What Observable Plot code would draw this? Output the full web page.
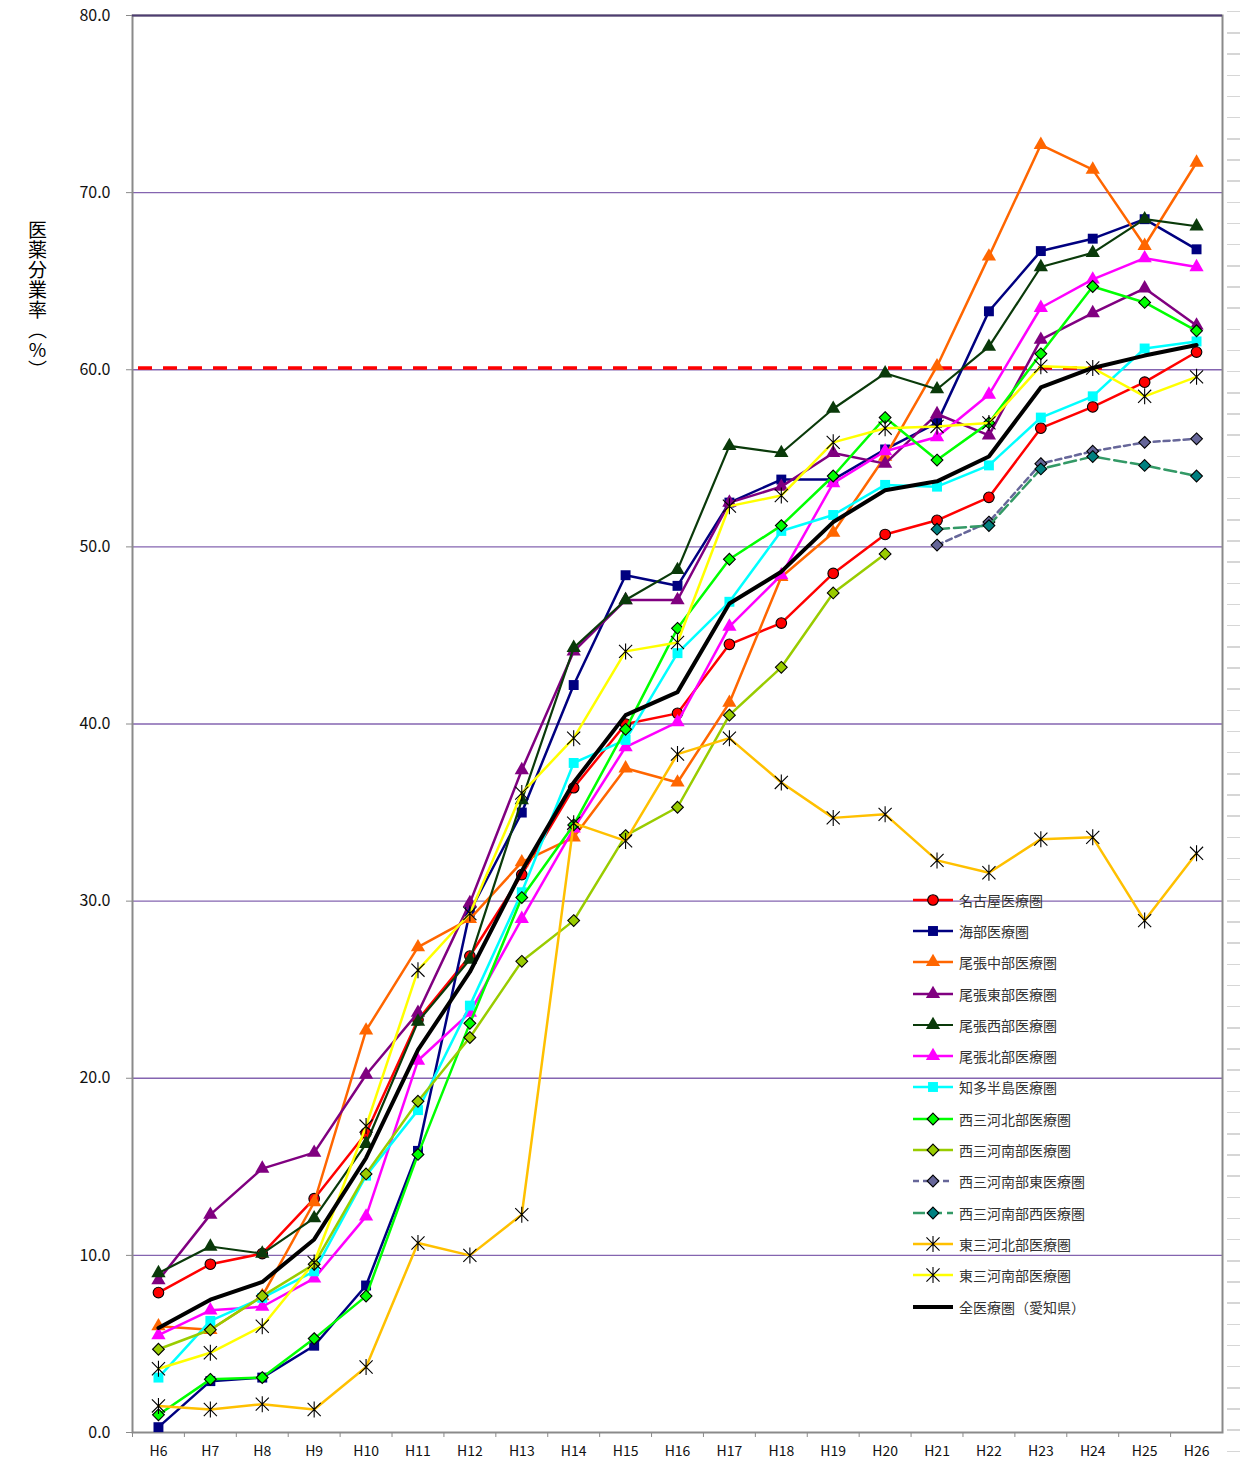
<!DOCTYPE html>
<html><head><meta charset="utf-8">
<script src="https://cdn.jsdelivr.net/npm/d3@7"></script>
<script src="https://cdn.jsdelivr.net/npm/@observablehq/plot@0.6"></script>
<style>
body{margin:0;background:#fff;font-family:"Noto Sans CJK JP","Noto Sans",sans-serif;}
#wrap{position:relative;width:1243px;height:1461px;overflow:hidden;}
#ytitle{position:absolute;left:28px;top:220px;writing-mode:vertical-rl;text-orientation:upright;font-size:19px;color:#000;line-height:19px;letter-spacing:1px;}
#legend{position:absolute;left:913px;top:884px;}
.row{display:flex;align-items:center;height:31.3px;font-size:14px;color:#333;white-space:nowrap;}
.row svg{margin-right:6px;overflow:visible}
#rticks{position:absolute;left:1227px;top:11px;width:13px;height:1443px;background:repeating-linear-gradient(to bottom,#d6d6d6 0,#d6d6d6 1.5px,transparent 1.5px,transparent 21.17px);}
</style></head>
<body><div id="wrap"></div>
<script>
// ---- data ----
const years = ["H6","H7","H8","H9","H10","H11","H12","H13","H14","H15","H16","H17","H18","H19","H20","H21","H22","H23","H24","H25","H26"];
const yTicks = [0,10,20,30,40,50,60,70,80];
const target = 60.1;
const seriesNames = ["名古屋医療圏","海部医療圏","尾張中部医療圏","尾張東部医療圏","尾張西部医療圏","尾張北部医療圏","知多半島医療圏","西三河北部医療圏","西三河南部医療圏","西三河南部東医療圏","西三河南部西医療圏","東三河北部医療圏","東三河南部医療圏","全医療圏（愛知県）"];
const nagoya      = [7.9, 9.5, 10.1, 13.2, 16.9, 23.3, 26.9, 31.5, 36.4, 40.0, 40.6, 44.5, 45.7, 48.5, 50.7, 51.5, 52.8, 56.7, 57.9, 59.3, 61.0];
const ama         = [0.3, 2.9, 3.1, 4.9, 8.3, 15.9, 29.4, 35.0, 42.2, 48.4, 47.8, 52.5, 53.8, 53.8, 55.5, 57.0, 63.3, 66.7, 67.4, 68.5, 66.8];
const owariChubu  = [6.0, 5.8, 7.7, 13.0, 22.7, 27.4, 29.0, 32.2, 33.6, 37.5, 36.7, 41.2, 48.3, 50.8, 55.1, 60.2, 66.4, 72.7, 71.3, 67.0, 71.7];
const owariTobu   = [8.6, 12.3, 14.9, 15.8, 20.2, 23.7, 29.9, 37.4, 44.1, 47.0, 47.0, 52.5, 53.4, 55.3, 54.7, 57.5, 56.3, 61.7, 63.2, 64.6, 62.5];
const owariSeibu  = [9.0, 10.5, 10.1, 12.1, 16.3, 23.2, 26.7, 35.7, 44.3, 47.0, 48.7, 55.7, 55.3, 57.8, 59.8, 58.9, 61.3, 65.8, 66.6, 68.5, 68.1];
const owariHokubu = [5.5, 6.9, 7.1, 8.7, 12.2, 21.0, 23.7, 29.0, 34.1, 38.7, 40.1, 45.5, 48.4, 53.6, 55.4, 56.2, 58.6, 63.5, 65.1, 66.3, 65.8];
const chita       = [3.1, 6.3, 7.6, 9.1, 14.5, 18.2, 24.1, 30.5, 37.8, 39.1, 44.0, 46.9, 50.9, 51.8, 53.5, 53.4, 54.6, 57.3, 58.5, 61.2, 61.6];
const nishiHokubu = [1.0, 3.0, 3.1, 5.3, 7.7, 15.7, 23.1, 30.2, 34.3, 39.7, 45.4, 49.3, 51.2, 54.0, 57.3, 54.9, 57.0, 60.9, 64.7, 63.8, 62.2];
const nishiNanbu  = [4.7, 5.8, 7.7, 9.5, 14.6, 18.7, 22.3, 26.6, 28.9, 33.7, 35.3, 40.5, 43.2, 47.4, 49.6, null, null, null, null, null, null];
const nanbuHigashi= [null,null,null,null,null,null,null,null,null,null,null,null,null,null,null, 50.1, 51.4, 54.7, 55.4, 55.9, 56.1];
const nanbuNishi  = [null,null,null,null,null,null,null,null,null,null,null,null,null,null,null, 51.0, 51.2, 54.4, 55.1, 54.6, 54.0];
const higashiHokubu=[1.5, 1.3, 1.6, 1.3, 3.7, 10.7, 10.0, 12.3, 34.4, 33.4, 38.3, 39.2, 36.7, 34.7, 34.9, 32.3, 31.6, 33.5, 33.6, 28.9, 32.7];
const higashiNanbu= [3.6, 4.5, 6.0, 9.6, 17.3, 26.1, 29.3, 36.1, 39.2, 44.1, 44.6, 52.3, 52.9, 55.9, 56.7, 56.8, 57.0, 60.2, 60.1, 58.5, 59.6];
const aichiAll    = [5.9, 7.5, 8.5, 10.9, 15.5, 21.6, 26.0, 31.7, 36.7, 40.5, 41.8, 46.8, 48.6, 51.4, 53.2, 53.7, 55.1, 59.0, 60.1, 60.8, 61.4];
const seriesValues = [nagoya, ama, owariChubu, owariTobu, owariSeibu, owariHokubu, chita, nishiHokubu, nishiNanbu, nanbuHigashi, nanbuNishi, higashiHokubu, higashiNanbu, aichiAll];

// ---- styles ----
const star = {draw(ctx, size){ const r = Math.sqrt(size/Math.PI); const a = r*0.82;
  ctx.moveTo(-a,-a); ctx.lineTo(a,a); ctx.moveTo(-a,a); ctx.lineTo(a,-a); ctx.moveTo(0,-r); ctx.lineTo(0,r);} };
const styles = [
 {line:"#ff0000", w:2.5, symbol:"circle",   fill:"#ff0000", stroke:"#000", r:5.3},
 {line:"#000080", w:2.5, symbol:"square",   fill:"#000080", stroke:"none", r:5.6},
 {line:"#ff6600", w:2.5, symbol:"triangle", fill:"#ff6600", stroke:"none", r:5.3},
 {line:"#800080", w:2.5, symbol:"triangle", fill:"#800080", stroke:"none", r:5.3},
 {line:"#0a3a0a", w:2.2, symbol:"triangle", fill:"#0a3a0a", stroke:"none", r:5.3},
 {line:"#ff00ff", w:2.5, symbol:"triangle", fill:"#ff00ff", stroke:"none", r:5.3},
 {line:"#00ffff", w:2.5, symbol:"square",   fill:"#00ffff", stroke:"none", r:5.6},
 {line:"#00ff00", w:2.5, symbol:"diamond2", fill:"#00ff00", stroke:"#000", r:5.3},
 {line:"#99cc00", w:2.5, symbol:"diamond2", fill:"#99cc00", stroke:"#000", r:5.3},
 {line:"#666699", w:2.5, dash:"6,4", symbol:"diamond2", fill:"#666699", stroke:"#000", r:5.3},
 {line:"#339966", w:2.5, dash:"12,5", symbol:"diamond2", fill:"#008080", stroke:"#000", r:5.3},
 {line:"#ffc000", w:2.5, symbol:star, fill:"none", stroke:"#000", r:8},
 {line:"#ffff00", w:2.5, symbol:star, fill:"none", stroke:"#000", r:8},
 {line:"#000000", w:4, symbol:null}
];

// ---- build ----
const W = 1243, H = 1461, ml = 132, mr = 21, mt = 15, mb = 29;
const step = (W - ml - mr) / years.length;
const tables = seriesValues.map((vals, i) => vals.map((v, j) => ({series: seriesNames[i], year: years[j], value: v})).filter(d => d.value != null));

const marks = [
  Plot.gridY(yTicks.filter(t => t > 0 && t < 80), {stroke: "#8464b0", strokeOpacity: 1, strokeWidth: 1.3}),
  Plot.ruleY([target], {stroke: "#ff0000", strokeWidth: 3.5, strokeDasharray: "14,11", insetLeft: 6, insetRight: 109}),
  Plot.frame({stroke: "#8a8a8a", strokeWidth: 2}),
  Plot.ruleY([80], {stroke: "#4e3d72", strokeWidth: 2}),
  Plot.axisY({ticks: yTicks, tickSize: 6, fill: "none", stroke: "#8a8a8a", label: null}),
  Plot.axisY({ticks: yTicks, tickSize: 0, tickPadding: 22, fontSize: 16, fill: "#111", tickFormat: d3.format(".1f"), label: null}),
  Plot.axisX({tickSize: 0, tickPadding: 14, fontSize: 14, fill: "#111", label: null}),
  Plot.axisX({tickSize: 5, fill: "none", stroke: "#8a8a8a", dx: -step/2, label: null})
];
tables.forEach((t, i) => {
  const s = styles[i];
  marks.push(Plot.line(t, {x: "year", y: "value", stroke: s.line, strokeWidth: s.w, strokeDasharray: s.dash, strokeLinejoin: "round"}));
  if (s.symbol) marks.push(Plot.dot(t, {x: "year", y: "value", symbol: s.symbol, r: s.r, fill: s.fill, stroke: s.stroke, strokeWidth: 1.1}));
});

const chart = Plot.plot({
  width: W, height: H, marginLeft: ml, marginRight: mr, marginTop: mt, marginBottom: mb,
  style: {fontFamily: '"Noto Sans CJK JP","Noto Sans",sans-serif', background: "white", color: "#111"},
  x: {type: "point", domain: years, padding: 0.5, round: false},
  y: {domain: [0, 80]},
  marks
});
const wrap = document.getElementById("wrap");
wrap.appendChild(chart);

// y title
const yt = document.createElement("div"); yt.id = "ytitle"; yt.textContent = "医薬分業率（%）"; wrap.appendChild(yt);
// right-hand faint tick strip
const rt = document.createElement("div"); rt.id = "rticks"; wrap.appendChild(rt);

// legend
const symType = {circle: d3.symbolCircle, square: d3.symbolSquare, triangle: d3.symbolTriangle, diamond2: d3.symbolDiamond2};
const lg = document.createElement("div"); lg.id = "legend";
seriesNames.forEach((name, i) => {
  const s = styles[i];
  const row = document.createElement("div"); row.className = "row";
  const svg = d3.create("svg").attr("width", 40).attr("height", 14);
  svg.append("line").attr("x1", 0).attr("x2", 40).attr("y1", 7).attr("y2", 7)
    .attr("stroke", s.line).attr("stroke-width", s.w).attr("stroke-dasharray", s.dash || null);
  if (s.symbol) {
    const type = typeof s.symbol === "string" ? symType[s.symbol] : s.symbol;
    svg.append("path").attr("transform", "translate(20,7)")
      .attr("d", d3.symbol(type, Math.PI * s.r * s.r)())
      .attr("fill", s.fill).attr("stroke", s.stroke).attr("stroke-width", 1.1);
  }
  row.appendChild(svg.node());
  const span = document.createElement("span"); span.textContent = name; row.appendChild(span);
  lg.appendChild(row);
});
wrap.appendChild(lg);
</script>
</body></html>
